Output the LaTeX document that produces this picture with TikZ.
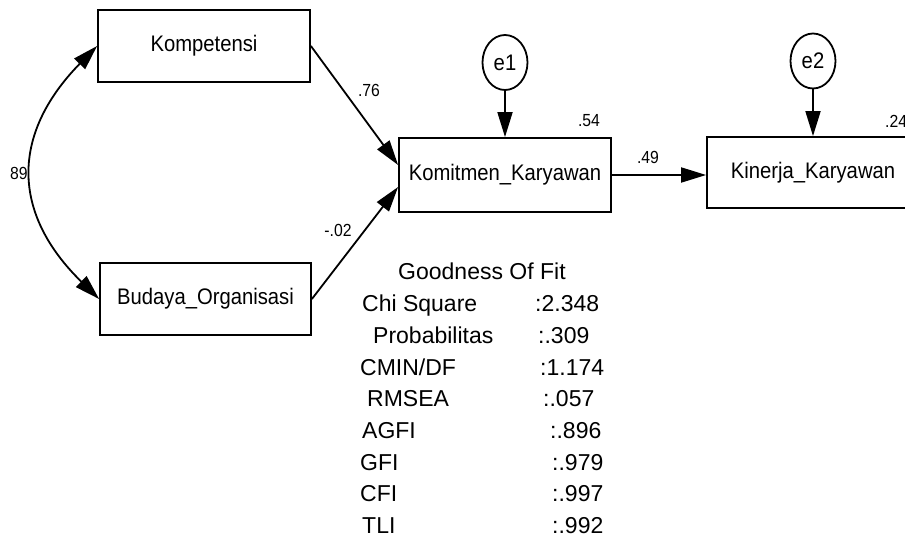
\documentclass[tikz,border=0pt]{standalone}
\usepackage{fontspec}
\setmainfont{Liberation Sans}
\newfontfamily\nodefont{Liberation Sans}[FakeStretch=0.9]
\usetikzlibrary{arrows.meta,shapes.geometric}
\begin{document}
\begin{tikzpicture}[x=1pt,y=-1pt,
  box/.style={draw,line width=1.8pt,minimum width=212pt,minimum height=72pt,inner sep=0pt,font=\nodefont\fontsize{22.5}{26}\selectfont},
  err/.style={draw,ellipse,line width=1.8pt,minimum width=45pt,minimum height=55pt,inner sep=0pt,font=\nodefont\fontsize{22.5}{26}\selectfont},
  lab/.style={font=\nodefont\fontsize{17.5}{20}\selectfont,inner sep=0pt},
  gof/.style={font=\fontsize{23}{27}\selectfont,inner sep=0pt,anchor=base west},
  arr/.style={line width=1.8pt,-{Triangle[length=25pt,width=15pt]}},
  dbl/.style={line width=1.8pt,{Triangle[length=25pt,width=15pt]}-{Triangle[length=25pt,width=15pt]}}
]
\useasboundingbox (0,0) rectangle (905,537);
\clip (0,0) rectangle (905,537);

\node[box] (komp) at (204,46) {Kompetensi};
\node[box,minimum width=211pt] (bud) at (205.5,299) {Budaya\_Organisasi};
\node[box,minimum height=74pt] (komi) at (505,175) {Komitmen\_Karyawan};
\node[box,minimum height=71pt] (kin) at (813,172.5) {Kinerja\_Karyawan};
\node[err] (e1) at (505,62.5) {e1};
\node[err] (e2) at (813,61) {e2};

\draw[arr] (komp.east) -- ([yshift=10pt]komi.west);
\draw[arr] (bud.east) -- ([yshift=-12pt]komi.west);
\draw[arr] (komi.east) -- (kin.west |- komi.east);
\draw[arr] (e1.south) -- (komi.north);
\draw[arr] (e2.south) -- (kin.north);
\draw[dbl] (komp.west) .. controls (11,134) and (11,213) .. (bud.west);

\node[lab] (l76) at (369,90) {.76};
\node[lab] (l02) at (338,230) {-.02};
\node[lab] (l89) at (19,173) {89};
\node[lab] (l54) at (589,121) {.54};
\node[lab] (l49) at (648,157) {.49};
\node[lab,anchor=west] (l24) at (885,121) {.24};

\node[gof] (g0) at (398,280) {Goodness Of Fit};
\node[gof] (g1) at (362,311.5) {Chi Square};
\node[gof] (g2) at (373,343) {Probabilitas};
\node[gof] (g3) at (360,375) {CMIN/DF};
\node[gof] (g4) at (367,406.5) {RMSEA};
\node[gof] (g5) at (362,438) {AGFI};
\node[gof] (g6) at (360,470) {GFI};
\node[gof] (g7) at (360,501.5) {CFI};
\node[gof] (g8) at (362,533) {TLI};
\node[gof] (v1) at (535,311.5) {:2.348};
\node[gof] (v2) at (538,343) {:.309};
\node[gof] (v3) at (540,375) {:1.174};
\node[gof] (v4) at (543,406.5) {:.057};
\node[gof] (v5) at (550,438) {:.896};
\node[gof] (v6) at (552,470) {:.979};
\node[gof] (v7) at (552,501.5) {:.997};
\node[gof] (v8) at (552,533) {:.992};
\end{tikzpicture}
\end{document}
